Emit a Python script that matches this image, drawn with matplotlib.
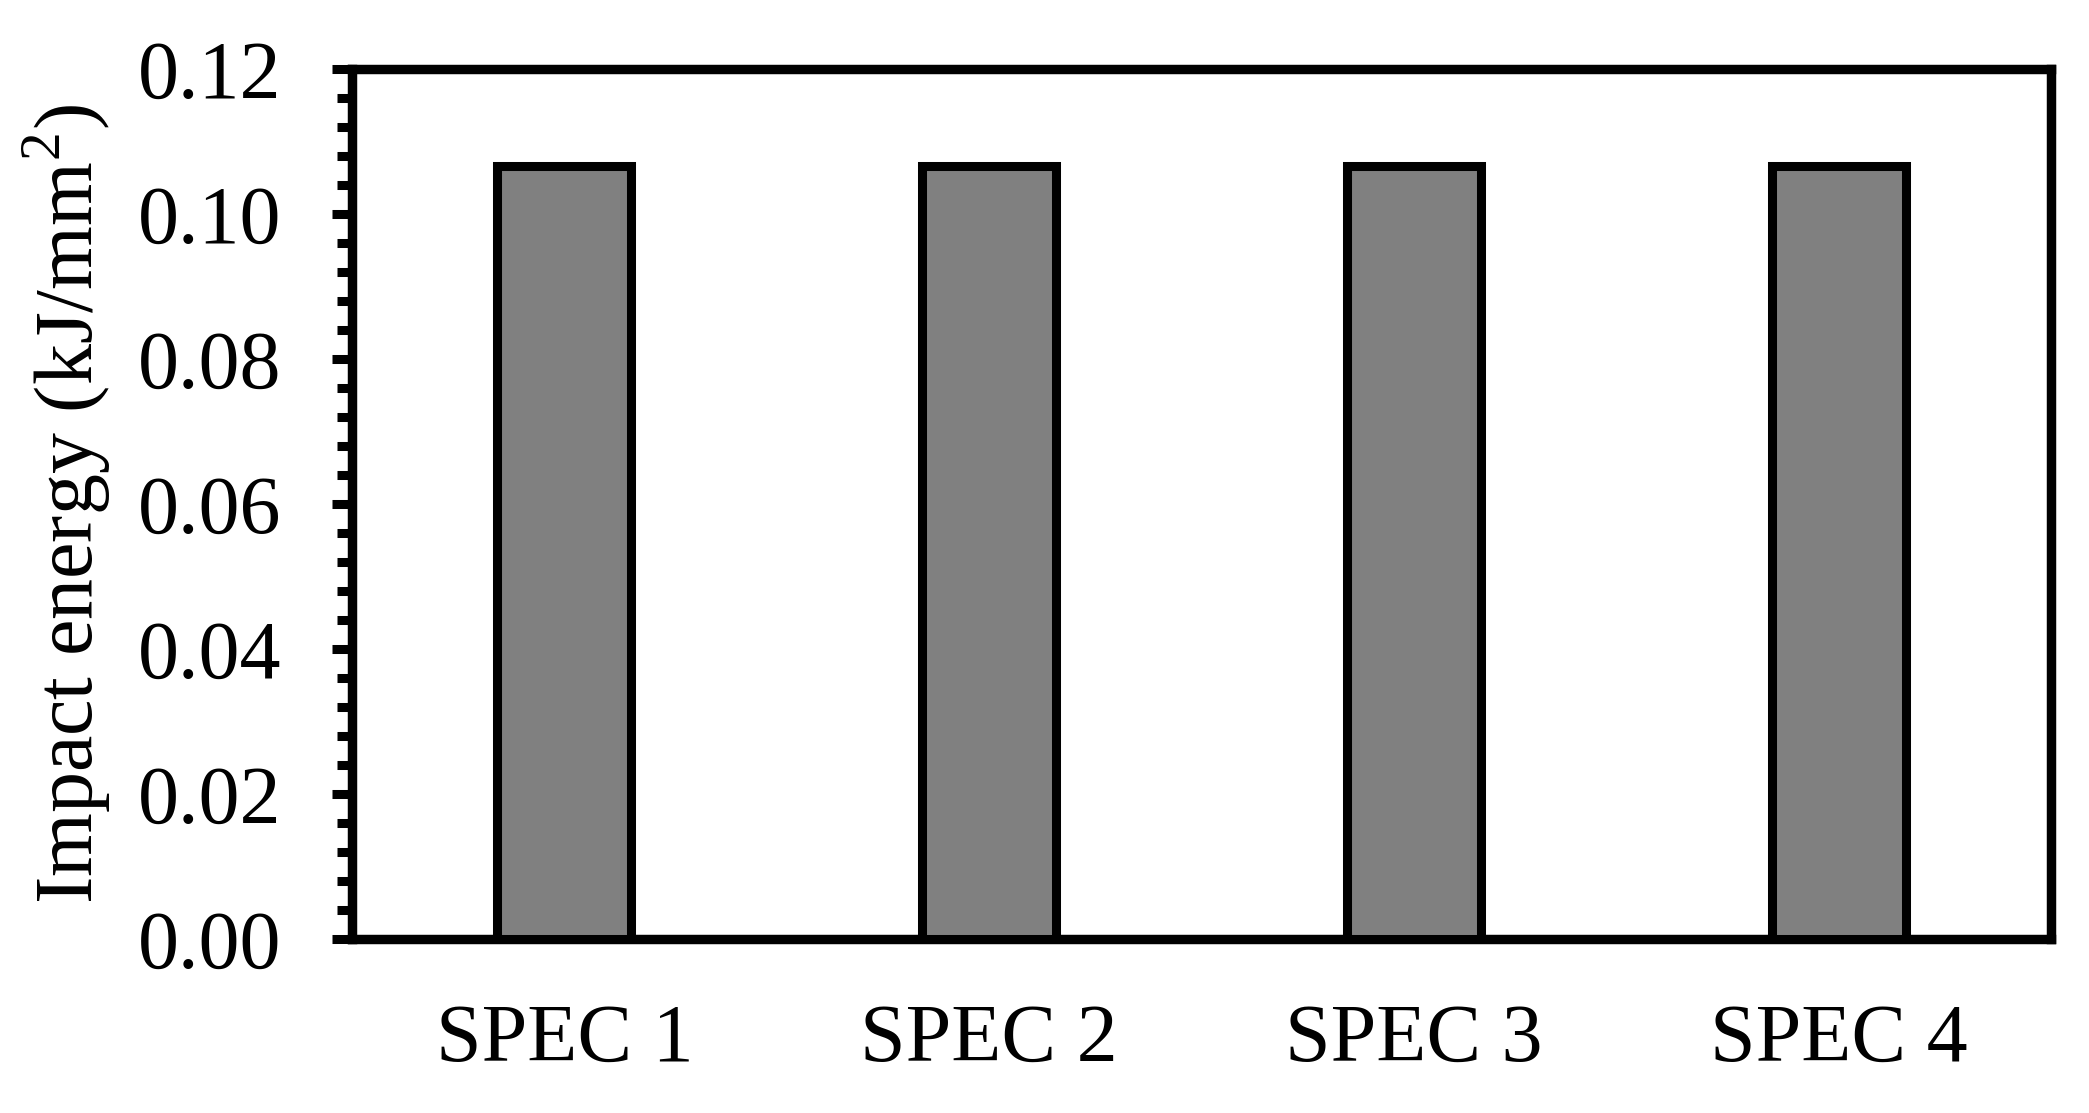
import matplotlib
matplotlib.use("Agg")
import matplotlib.pyplot as plt
from matplotlib.ticker import MultipleLocator, FormatStrFormatter

# data
specimens = ["SPEC 1", "SPEC 2", "SPEC 3", "SPEC 4"]
impact_energy = [0.1066, 0.1066, 0.1066, 0.1066]

plt.rcParams["font.family"] = ["Liberation Serif", "DejaVu Serif"]
plt.rcParams["mathtext.fontset"] = "custom"
plt.rcParams["mathtext.rm"] = "Liberation Serif"

fs = 59

fig = plt.figure(figsize=(20.89, 11.13), dpi=100)
ax = fig.add_axes([352 / 2089, 1 - 939 / 1113, (2051 - 352) / 2089, (939 - 69) / 1113])

x = range(len(specimens))
ax.bar(x, impact_energy, width=0.315, color="#808080", edgecolor="black",
       linewidth=6.5, zorder=3)

ax.set_xlim(-0.5, 3.5)
ax.set_ylim(0, 0.12)
ax.set_xticks(list(x))
ax.set_xticklabels(specimens)
ax.yaxis.set_major_locator(MultipleLocator(0.02))
ax.yaxis.set_minor_locator(MultipleLocator(0.004))
ax.yaxis.set_major_formatter(FormatStrFormatter("%.2f"))

for s in ax.spines.values():
    s.set_linewidth(6.8)
    s.set_color("black")

ax.tick_params(axis="y", which="major", direction="out", length=14.5, width=6.5,
               labelsize=fs, pad=36)
ax.tick_params(axis="y", which="minor", direction="out", length=10.5, width=6.5)
ax.tick_params(axis="x", which="both", length=0, labelsize=fs, pad=46)

ax.set_ylabel("Impact energy (kJ/mm$^2$)", fontsize=fs, labelpad=19)

fig.savefig("out.png", dpi=100, facecolor="white")
